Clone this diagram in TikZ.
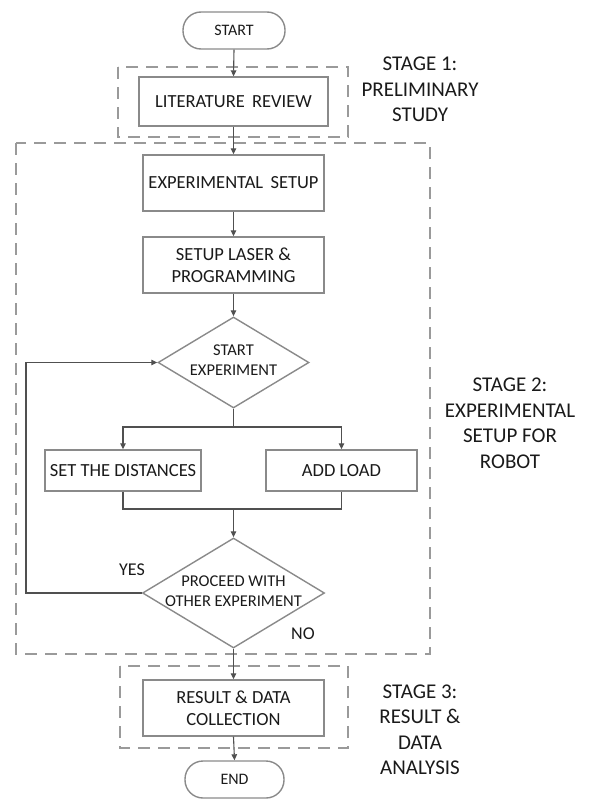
\documentclass[tikz,border=0pt]{standalone}
\usepackage{fontspec}
\setmainfont{Carlito}
\usetikzlibrary{shapes.geometric,arrows.meta}
\definecolor{boxline}{HTML}{8A8A8A}
\definecolor{dashline}{HTML}{9A9A9A}
\definecolor{conn}{HTML}{505050}
\definecolor{txt}{HTML}{1A1A1A}
\begin{document}
\begin{tikzpicture}[x=1pt,y=-1pt,
  every node/.style={text=txt},
  procbox/.style={draw=boxline,line width=1.4pt,rectangle,inner sep=0pt,align=center,font=\fontsize{18.5}{22}\selectfont},
  termbox/.style={draw=boxline,line width=1.4pt,rectangle,rounded corners=18pt,inner sep=0pt,minimum height=37pt,font=\fontsize{16}{19}\selectfont},
  decbox/.style={draw=boxline,line width=1.4pt,diamond,inner sep=0pt},
  dectext/.style={align=center,inner sep=0pt,font=\fontsize{16.5}{20}\selectfont},
  stagebox/.style={draw=dashline,line width=2pt,dash pattern=on 12pt off 8pt},
  stagelabel/.style={align=center,font=\fontsize{21}{25.5}\selectfont},
  flow/.style={draw=conn,line width=1.1pt},
  arr/.style={flow,-{Triangle[length=6pt,width=5.5pt]}},
  ynlabel/.style={font=\fontsize{18}{21}\selectfont}
]
\useasboundingbox (0,0) rectangle (591,800);

% stage boxes
\draw[stagebox] (118,67) rectangle (348,137);
\draw[stagebox] (16,143) rectangle (430,654);
\draw[stagebox] (120,666) rectangle (348,748);

% nodes
\node[termbox,minimum width=102pt] (start) at (234,30.5) {START};
\node[procbox,minimum width=189pt,minimum height=49pt] (lit) at (233.5,101.5) {LITERATURE\, REVIEW};
\node[procbox,minimum width=181pt,minimum height=56pt] (exp) at (233.5,183) {EXPERIMENTAL\, SETUP};
\node[procbox,minimum width=181pt,minimum height=56pt] (laser) at (233.5,265) {SETUP LASER \&\\PROGRAMMING};
\node[decbox,minimum width=151pt,minimum height=91pt] (d1) at (233.5,362.5) {};
\node[dectext] (d1t) at (233.5,360) {START\\EXPERIMENT};
\node[procbox,minimum width=156pt,minimum height=41pt] (dist) at (123,470.5) {SET THE DISTANCES};
\node[procbox,minimum width=151pt,minimum height=41pt] (load) at (341.5,470.5) {ADD LOAD};
\node[decbox,minimum width=182pt,minimum height=110pt] (d2) at (233.5,593) {};
\node[dectext] (d2t) at (233.5,591) {PROCEED WITH\\OTHER EXPERIMENT};
\node[procbox,minimum width=181pt,minimum height=56pt] (res) at (233.5,708) {RESULT \& DATA\\COLLECTION};
\node[termbox,minimum width=99pt] (end) at (234.5,779.5) {END};

% stage labels
\node[stagelabel] (lab1) at (420,89.5) {STAGE 1:\\PRELIMINARY\\STUDY};
\node[stagelabel] (lab2) at (510,423.5) {STAGE 2:\\EXPERIMENTAL\\SETUP FOR\\ROBOT};
\node[stagelabel] (lab3) at (420,729.5) {STAGE 3:\\RESULT \&\\DATA\\ANALYSIS};

\node[ynlabel] (yes) at (132,570) {YES};
\node[ynlabel] (no) at (303,634) {NO};

% helper coordinates
\coordinate (b1) at (233.5,427);
\coordinate (m1) at (233.5,509);
\coordinate (lp) at (26,0);

% connectors
\draw[arr] (start.south) -- (lit.north);
\draw[arr] (lit.south) -- (exp.north);
\draw[arr] (exp.south) -- (laser.north);
\draw[arr] (laser.south) -- (d1.north);
\draw[flow] (d1.south) -- (b1);
\draw[arr] (b1) -| (dist.north);
\draw[arr] (b1) -| (load.north);
\draw[flow] (dist.south) |- (m1) -| (load.south);
\draw[arr] (m1) -- (d2.north);
\draw[arr] (d2.west) -- (d2.west -| lp) |- (d1.west);
\draw[arr] (d2.south) -- (res.north);
\draw[arr] (res.south) -- (end.north);
\end{tikzpicture}
\end{document}
